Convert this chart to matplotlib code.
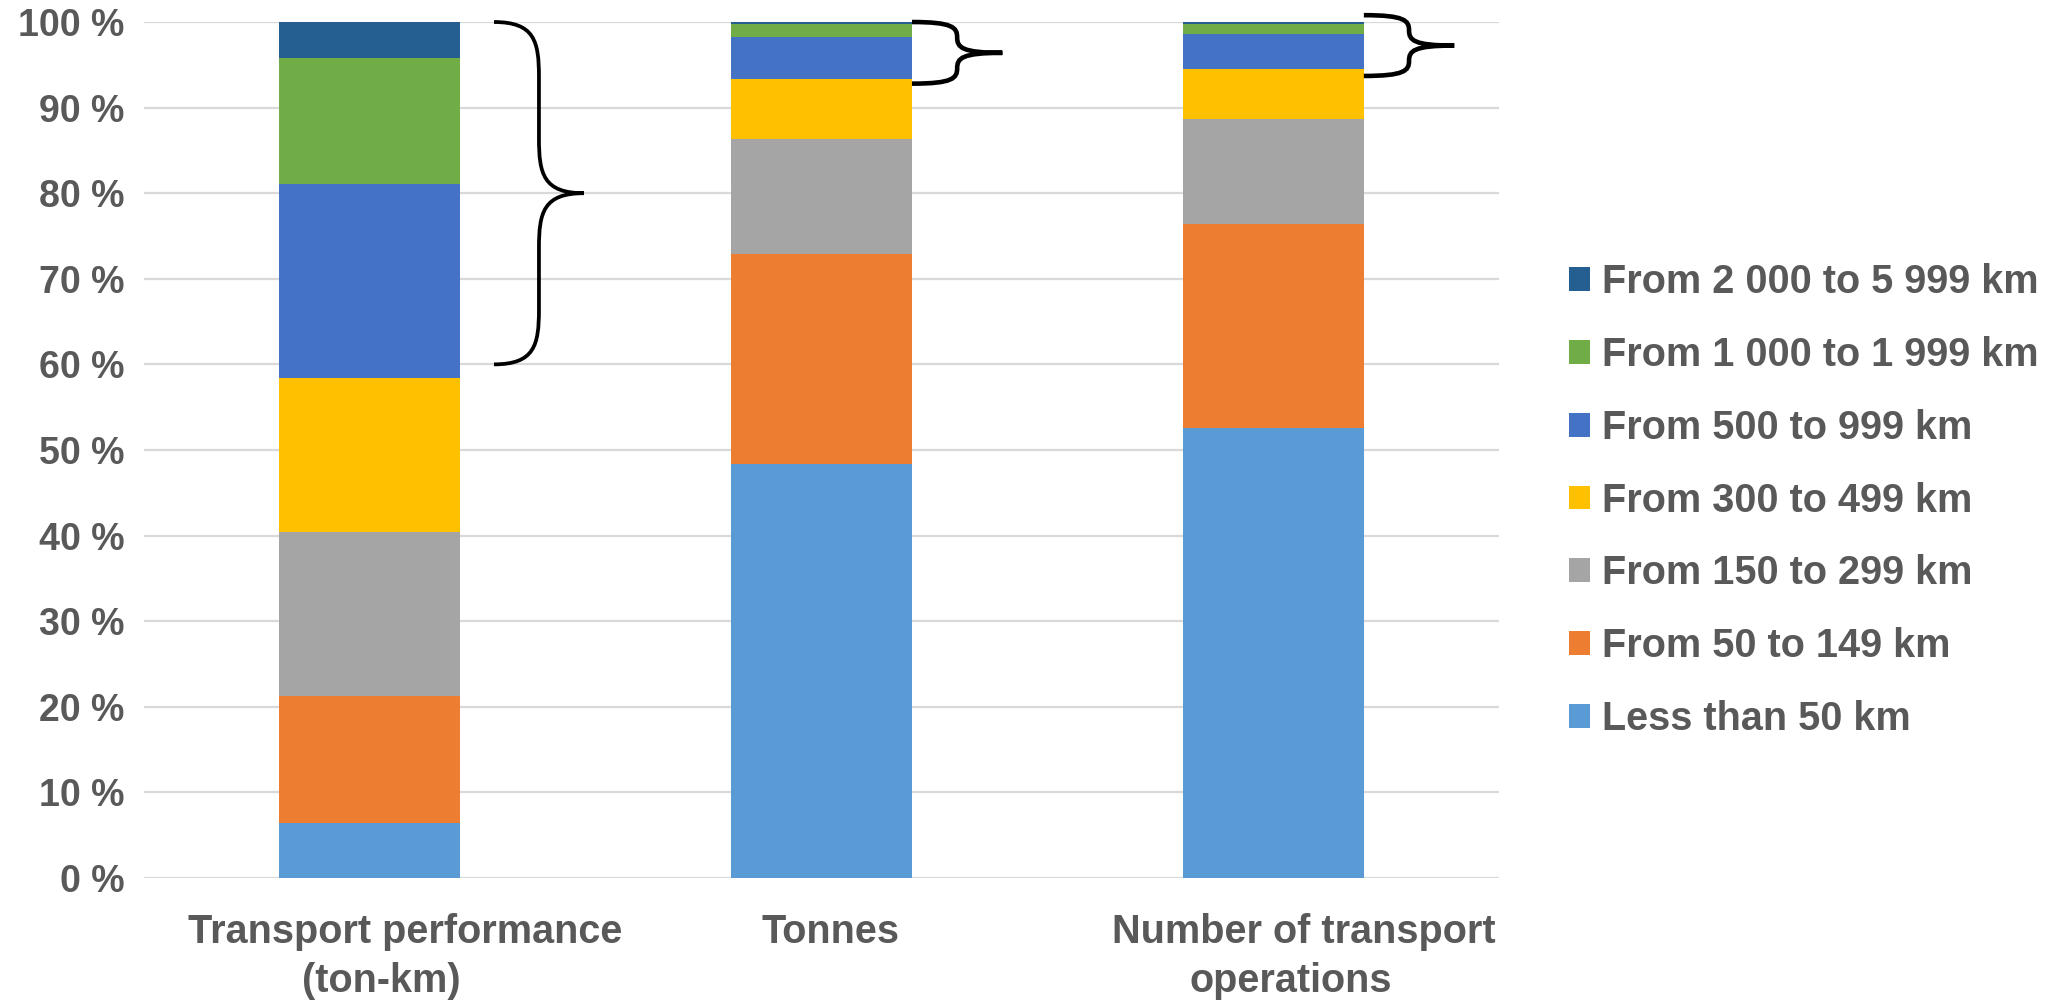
import matplotlib
matplotlib.use("Agg")
import matplotlib.pyplot as plt
from matplotlib.path import Path
from matplotlib.patches import PathPatch, Patch
from matplotlib.transforms import blended_transform_factory, offset_copy

# categories on the x axis (one entry per wrapped line)
categories = [["Transport performance", "(ton-km)"], ["Tonnes"], ["Number of transport", "operations"]]

# distance bands, bottom of the stack first
bands = [
    "Less than 50 km",
    "From 50 to 149 km",
    "From 150 to 299 km",
    "From 300 to 499 km",
    "From 500 to 999 km",
    "From 1 000 to 1 999 km",
    "From 2 000 to 5 999 km",
]
band_colors = ["#5B9BD5", "#ED7D31", "#A5A5A5", "#FFC000", "#4472C4", "#70AD47", "#255E91"]

# shares (%) per category, one list per band
less_50 = [6.4, 48.3, 52.6]
from_50_149 = [14.9, 24.6, 23.8]
from_150_299 = [19.1, 13.4, 12.3]
from_300_499 = [18.0, 7.1, 5.8]
from_500_999 = [22.7, 4.8, 4.1]
from_1000_1999 = [14.7, 1.6, 1.2]
from_2000_5999 = [4.2, 0.2, 0.2]

series = [less_50, from_50_149, from_150_299, from_300_499,
          from_500_999, from_1000_1999, from_2000_5999]

# braces: (category index, bottom %, top %)
brace_spans = [(0, 60.0, 100.0), (1, 92.8, 100.0), (2, 93.7, 100.8)]

TEXT = "#595959"
plt.rcParams["font.family"] = ["Liberation Sans", "DejaVu Sans"]
plt.rcParams["font.weight"] = "bold"

fig = plt.figure(figsize=(20.54, 10.01), dpi=100)
ax = fig.add_axes([0.070, 0.123, 0.660, 0.855])

x = list(range(len(categories)))
bottom = [0.0] * len(categories)
for values, color in zip(series, band_colors):
    ax.bar(x, values, width=0.4, bottom=bottom, color=color, zorder=3)
    bottom = [b + v for b, v in zip(bottom, values)]


def brace(ax, x0, x1, yb, yt, frac, lw):
    xm = (x0 + x1) / 2
    ymid = (yb + yt) / 2
    c = (yt - yb) / 2 * frac
    verts = [
        (x0, yt),
        (x0 + (xm - x0) * 0.9, yt), (xm, yt - c * 0.35), (xm, yt - c),
        (xm, ymid + c),
        (xm, ymid + c * 0.35), (x1 - (x1 - xm) * 0.9, ymid), (x1, ymid),
        (x1 - (x1 - xm) * 0.9, ymid), (xm, ymid - c * 0.35), (xm, ymid - c),
        (xm, yb + c),
        (xm, yb + c * 0.35), (x0 + (xm - x0) * 0.9, yb), (x0, yb),
    ]
    codes = [Path.MOVETO] + [Path.CURVE4] * 3 + [Path.LINETO] + [Path.CURVE4] * 6 \
        + [Path.LINETO] + [Path.CURVE4] * 3
    ax.add_patch(PathPatch(Path(verts, codes), fill=False, lw=lw,
                           edgecolor="black", clip_on=False, zorder=4))


for (i, yb, yt) in brace_spans:
    if i == 0:
        brace(ax, i + 0.275, i + 0.474, yb, yt, 0.32, 2.7)
    else:
        brace(ax, i + 0.2, i + 0.4, yb, yt, 0.5, 3.3)

ax.set_xlim(-0.5, 2.5)
ax.set_ylim(0, 100)
ax.set_yticks(range(0, 101, 10))
ax.set_yticklabels([f"{v} %" for v in range(0, 101, 10)])
ax.set_xticks(x)
ax.set_xticklabels([])
ax.tick_params(axis="y", length=0, pad=14, labelsize=27, labelcolor=TEXT)
ax.tick_params(axis="x", length=0)
ax.grid(axis="y", color="#D9D9D9", lw=1.6, zorder=0)
for s in ax.spines.values():
    s.set_visible(False)

# category labels, placed line by line like the Excel original (offsets in pixels)
line_shift = [[35, 12], [9], [30, 17]]
blend = blended_transform_factory(ax.transData, ax.transAxes)
for i, lines in enumerate(categories):
    for j, line in enumerate(lines):
        tr = offset_copy(blend, fig=fig, x=line_shift[i][j], y=-65 - 49 * j, units="dots")
        ax.text(i, 0, line, transform=tr, ha="center", va="baseline",
                fontsize=28.5, color=TEXT, fontweight="bold")

handles = [Patch(facecolor=c) for c in band_colors][::-1]
fig.legend(handles, bands[::-1], loc="center left", bbox_to_anchor=(0.754, 0.5),
           frameon=False, fontsize=28.5, labelcolor=TEXT, handlelength=0.55,
           handleheight=0.55, handletextpad=0.3, labelspacing=0.88, borderpad=0)

fig.savefig("out.png", dpi=100)
